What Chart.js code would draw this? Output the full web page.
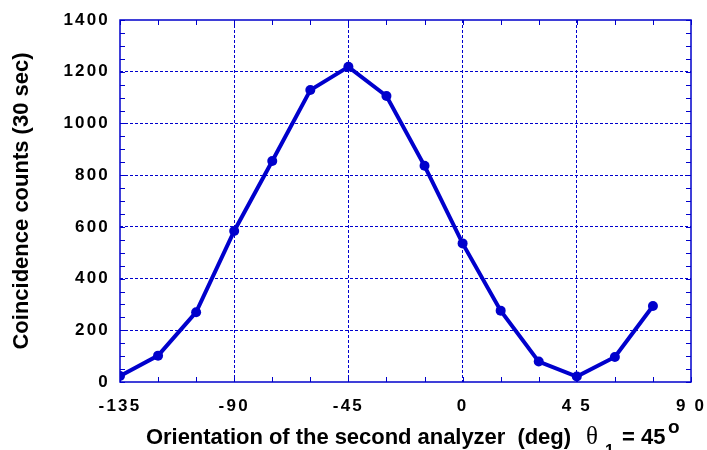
<!DOCTYPE html>
<html>
<head>
<meta charset="utf-8">
<script src="https://cdn.jsdelivr.net/npm/chart.js@4/dist/chart.umd.min.js"></script>
<style>
  html, body { margin: 0; padding: 0; background: #ffffff; }
  #wrap { width: 707px; height: 450px; position: relative; }
</style>
</head>
<body>
<div id="wrap"><canvas id="c" width="707" height="450"></canvas></div>
<script>
// ---- data ----
const angles = [-135, -120, -105, -90, -75, -60, -45, -30, -15, 0, 15, 30, 45, 60, 75];
const counts = [23, 102, 270, 584, 855, 1129, 1219, 1106, 836, 536, 276, 79, 21, 97, 294];
const xTickValues = [-135, -90, -45, 0, 45, 90];
const xTickLabels = ['-135', '-90', '-45', '0', '4 5', '9 0'];
const yTickValues = [0, 200, 400, 600, 800, 1000, 1200, 1400];
const yTitle = 'Coincidence counts (30 sec)';
const xTitle = 'Orientation of the second analyzer  (deg)';
const xTitleTheta = '\u03B8';
const xTitleSub = '1';
const xTitleTail = '= 45';
const xTitleSup = 'o';

const BLUE = '#0000cc';
const xMinorStep = 15;
const yMinorStep = 50;

function fitText(ctx, text, x, y, targetWidth) {
  ctx.letterSpacing = '0px';
  const w = ctx.measureText(text).width;
  const ls = (targetWidth - w) / Math.max(1, text.length - 1);
  ctx.letterSpacing = ls.toFixed(2) + 'px';
  ctx.fillText(text, x, y);
  ctx.letterSpacing = '0px';
}

const framePlugin = {
  id: 'frame',
  beforeDraw(chart) {
    chart.ctx.letterSpacing = '2.2px';
  },
  beforeDatasetsDraw(chart) {
    const ctx = chart.ctx;
    ctx.letterSpacing = '0px';
    const a = chart.chartArea;
    const xs = chart.scales.x, ys = chart.scales.y;
    ctx.save();
    ctx.strokeStyle = BLUE;
    ctx.lineWidth = 1;
    ctx.beginPath();
    for (let v = xs.min; v <= xs.max + 1e-9; v += xMinorStep) {
      const px = Math.round(xs.getPixelForValue(v)) + 0.5;
      ctx.moveTo(px, a.bottom); ctx.lineTo(px, a.bottom - 5);
      ctx.moveTo(px, a.top); ctx.lineTo(px, a.top + 5);
    }
    for (let v = ys.min; v <= ys.max + 1e-9; v += yMinorStep) {
      const py = Math.round(ys.getPixelForValue(v)) + 0.5;
      ctx.moveTo(a.left, py); ctx.lineTo(a.left + 5, py);
      ctx.moveTo(a.right, py); ctx.lineTo(a.right - 5, py);
    }
    ctx.stroke();
    ctx.lineWidth = 1.5;
    ctx.strokeRect(a.left, a.top, a.right - a.left, a.bottom - a.top);
    ctx.restore();
  },
  afterDraw(chart) {
    const ctx = chart.ctx;
    ctx.save();
    ctx.letterSpacing = '0px';
    ctx.fillStyle = '#000000';
    // y title
    ctx.save();
    ctx.translate(22, 201);
    ctx.rotate(-Math.PI / 2);
    ctx.font = 'bold 22px "Liberation Sans", Arial, sans-serif';
    ctx.textAlign = 'center';
    ctx.textBaseline = 'middle';
    ctx.fillText(yTitle, 0, 0);
    ctx.restore();
    // x title
    ctx.textAlign = 'left';
    ctx.textBaseline = 'alphabetic';
    ctx.font = 'bold 22px "Liberation Sans", Arial, sans-serif';
    fitText(ctx, xTitle, 146, 444, 425);
    ctx.font = '25px "Liberation Serif", "Times New Roman", serif';
    ctx.fillText(xTitleTheta, 586, 444);
    ctx.font = 'bold 16px "Liberation Sans", Arial, sans-serif';
    ctx.fillText(xTitleSub, 605, 456);
    ctx.font = 'bold 22px "Liberation Sans", Arial, sans-serif';
    ctx.fillText(xTitleTail, 622, 444);
    ctx.font = 'bold 19px "Liberation Sans", Arial, sans-serif';
    ctx.fillText(xTitleSup, 668, 433);
    ctx.restore();
  }
};

new Chart(document.getElementById('c'), {
  type: 'line',
  data: {
    datasets: [{
      data: angles.map((a, i) => ({ x: a, y: counts[i] })),
      borderColor: BLUE,
      backgroundColor: BLUE,
      borderWidth: 4,
      pointRadius: 5,
      pointHoverRadius: 5,
      pointBorderWidth: 0,
      tension: 0,
      fill: false
    }]
  },
  options: {
    responsive: false,
    animation: false,
    events: [],
    layout: { padding: { left: 0, top: 20, right: 16, bottom: 0 } },
    plugins: { legend: { display: false }, tooltip: { enabled: false } },
    scales: {
      x: {
        type: 'linear',
        min: -135, max: 90,
        afterBuildTicks(s) { s.ticks = xTickValues.map(v => ({ value: v })); },
        afterFit(s) { s.height = 68; s.paddingLeft = 0; s.paddingRight = 0; },
        ticks: {
          autoSkip: false, maxRotation: 0, padding: 14, color: '#000000',
          font: { family: '"Liberation Sans", Arial, sans-serif', size: 17, weight: 'bold' },
          callback(v) { const i = xTickValues.indexOf(v); return i >= 0 ? xTickLabels[i] : ''; }
        },
        grid: {
          color: ctx => (ctx.tick && (ctx.tick.value === -135 || ctx.tick.value === 90)) ? 'rgba(0,0,0,0)' : BLUE,
          lineWidth: 1, drawTicks: false
        },
        border: { display: false, dash: [3, 2] }
      },
      y: {
        type: 'linear',
        min: 0, max: 1400,
        afterBuildTicks(s) { s.ticks = yTickValues.map(v => ({ value: v })); },
        afterFit(s) { s.width = 120; s.paddingTop = 0; s.paddingBottom = 0; },
        ticks: {
          padding: 10, color: '#000000',
          font: { family: '"Liberation Sans", Arial, sans-serif', size: 17, weight: 'bold' },
          callback(v) { return String(v); }
        },
        grid: {
          color: ctx => (ctx.tick && (ctx.tick.value === 0 || ctx.tick.value === 1400)) ? 'rgba(0,0,0,0)' : BLUE,
          lineWidth: 1, drawTicks: false
        },
        border: { display: false, dash: [3, 2] }
      }
    }
  },
  plugins: [framePlugin]
});
</script>
</body>
</html>
